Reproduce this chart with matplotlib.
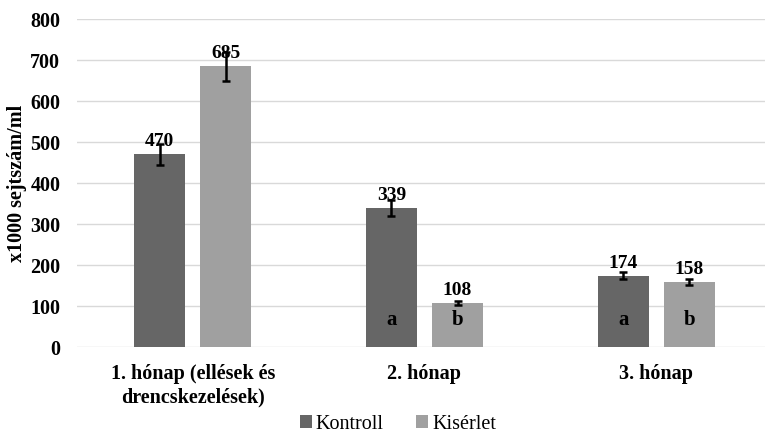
import numpy as np
import matplotlib.pyplot as plt

# Adatok
honapok = ['1. hónap (ellések és\ndrencskezelések)', '2. hónap', '3. hónap']
kontroll = [470, 339, 174]
kiserlet = [685, 108, 158]
kontroll_err = [25, 20, 8]
kiserlet_err = [35, 5, 7]
betuk_kontroll = ['', 'a', 'a']
betuk_kiserlet = ['', 'b', 'b']

plt.rcParams['font.family'] = ['Liberation Serif', 'DejaVu Serif']

fig = plt.figure(figsize=(7.65, 4.33), dpi=100)
ax = fig.add_axes([0.1007, 0.1986, 0.8993, 0.7575])

x = np.arange(len(honapok))
w = 0.22
off = 0.1425
b1 = ax.bar(x - off, kontroll, w, color='#666666', label='Kontroll', zorder=2)
b2 = ax.bar(x + off, kiserlet, w, color='#a0a0a0', label='Kisérlet', zorder=2)
ax.errorbar(x - off, kontroll, yerr=kontroll_err, fmt='none', ecolor='black',
            elinewidth=1.8, capsize=3, capthick=1.8, zorder=3)
ax.errorbar(x + off, kiserlet, yerr=kiserlet_err, fmt='none', ecolor='black',
            elinewidth=1.8, capsize=3, capthick=1.8, zorder=3)

# Értékcímkék
for bars in (b1, b2):
    for r in bars:
        ax.annotate(f'{r.get_height():.0f}', (r.get_x() + r.get_width() / 2, r.get_height()),
                    xytext=(0, 3), textcoords='offset points', ha='center', va='bottom',
                    fontsize=14, fontweight='bold', zorder=4)

for xi, t in zip(x - off, betuk_kontroll):
    ax.text(xi, 65, t, ha='center', va='center', fontsize=15, fontweight='bold', zorder=4)
for xi, t in zip(x + off, betuk_kiserlet):
    ax.text(xi, 65, t, ha='center', va='center', fontsize=15, fontweight='bold', zorder=4)

ax.set_ylim(0, 800)
ax.set_xlim(-0.5, 2.47)
ax.set_yticks(range(0, 801, 100))
ax.set_xticks(x)
ax.set_xticklabels(honapok, fontsize=14.5, fontweight='bold', linespacing=1.25)
ax.tick_params(axis='y', labelsize=14.5, length=0, pad=12)
ax.tick_params(axis='x', length=0, pad=12)
for lab in ax.get_yticklabels():
    lab.set_fontweight('bold')
ax.yaxis.grid(True, color='#d9d9d9', linewidth=1, zorder=0)
for s in ax.spines.values():
    s.set_visible(False)
ax.set_ylabel('x1000 sejtszám/ml', fontsize=14.5, fontweight='bold', labelpad=2)

fig.legend(handles=[b1, b2], loc='center', bbox_to_anchor=(0.52, 0.02), ncol=2,
           frameon=False, fontsize=14.5, handlelength=0.6, handleheight=0.6,
           handletextpad=0.2, columnspacing=1.6)

fig.savefig('out.png', dpi=100)
